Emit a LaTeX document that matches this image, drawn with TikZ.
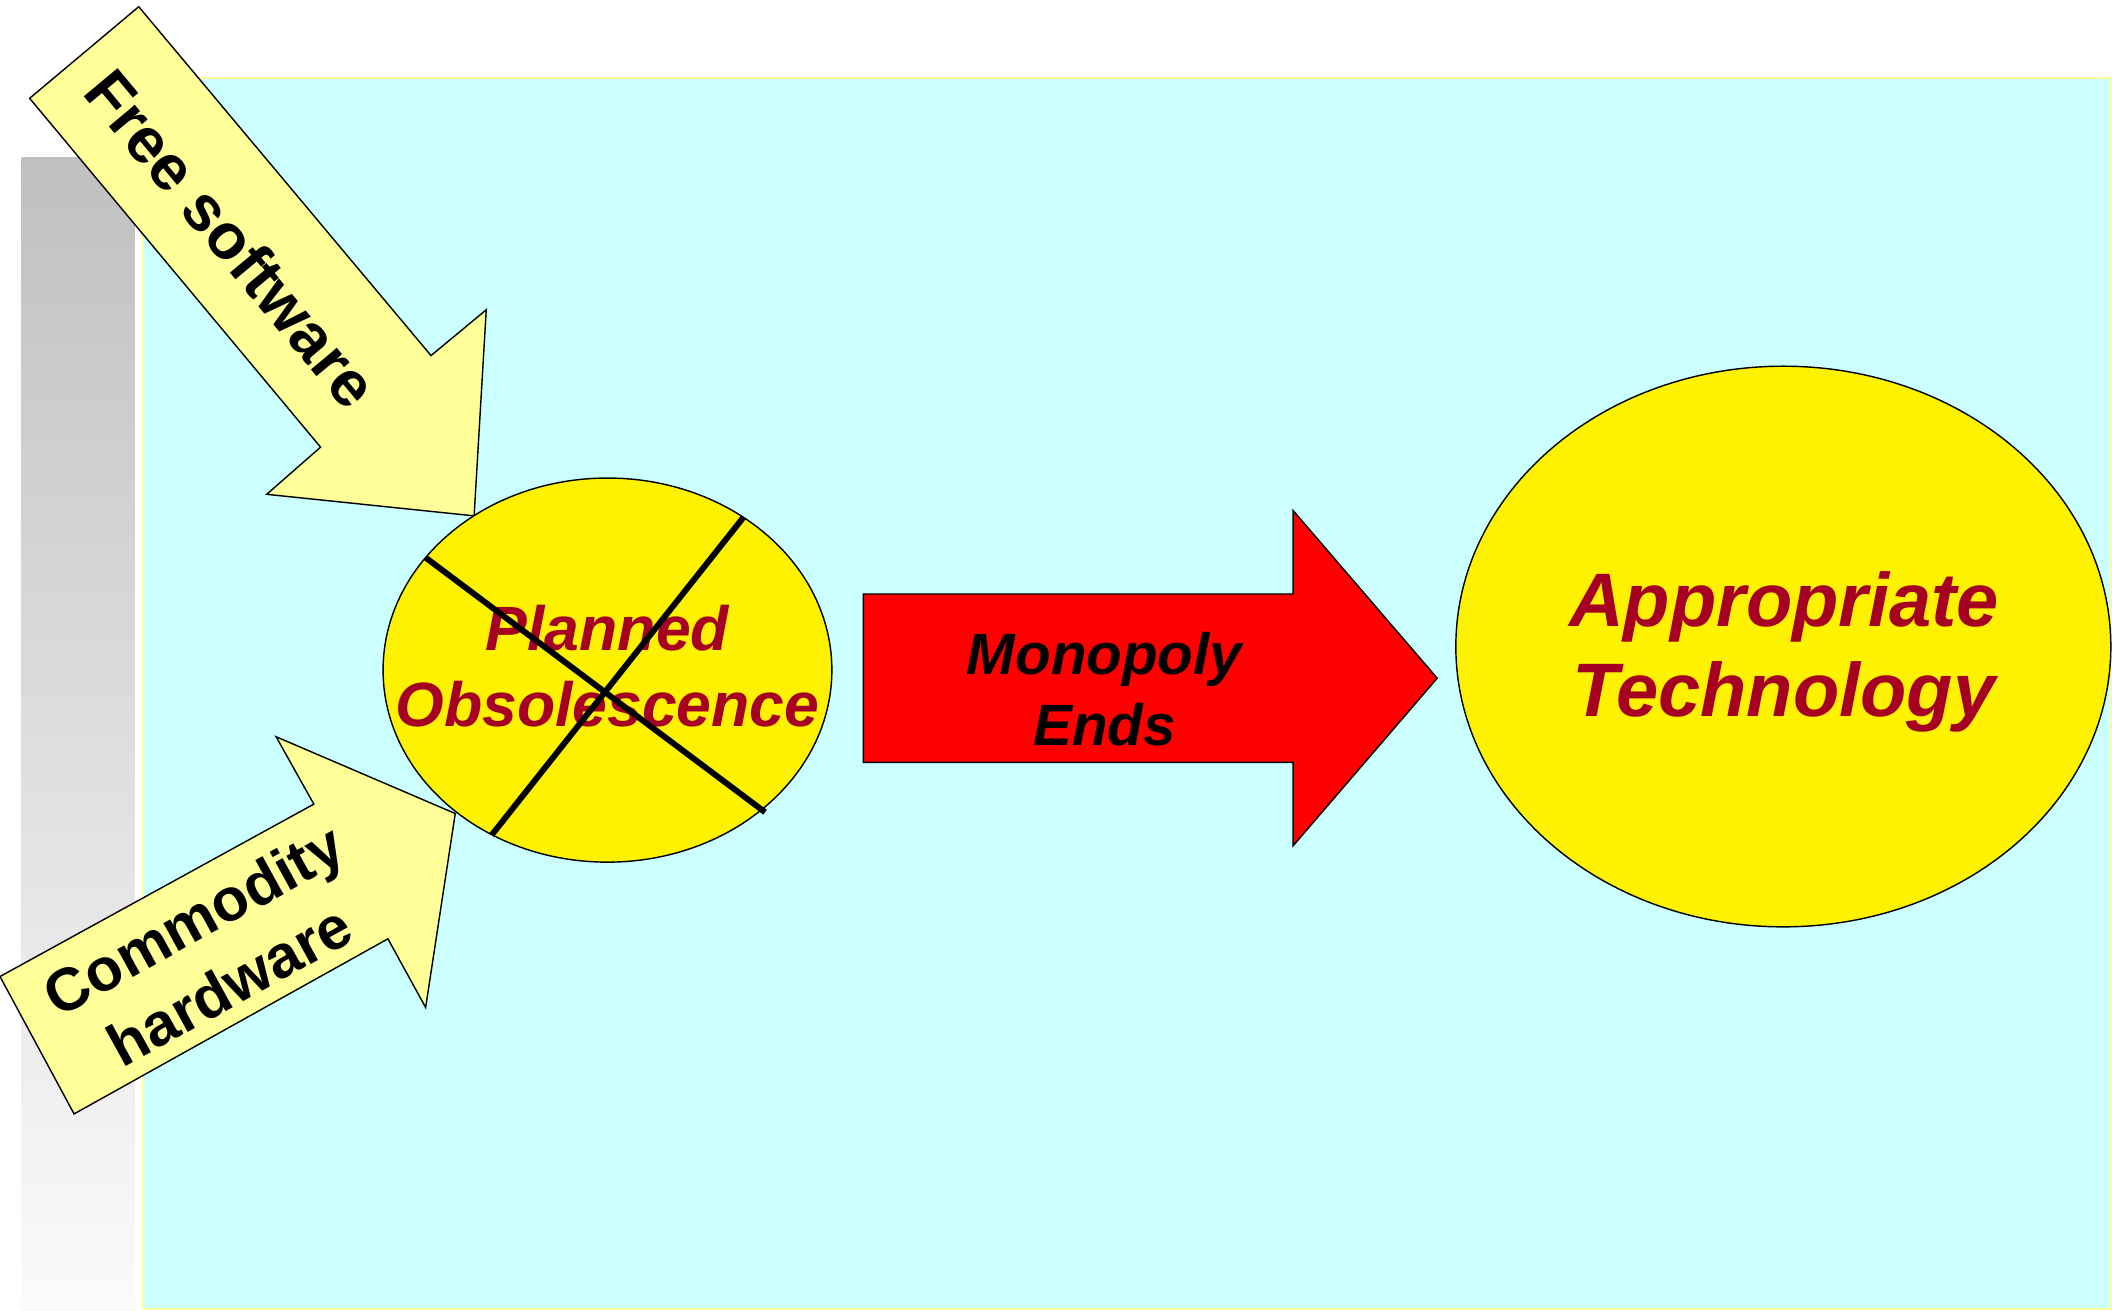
\documentclass[tikz,border=0pt]{standalone}
\usepackage{fontspec}
\setmainfont{Liberation Sans}
\usepackage{tikz}
\usetikzlibrary{shapes.geometric}
\definecolor{paleCyan}{RGB}{204,255,255}
\definecolor{paleYellow}{RGB}{255,255,153}
\definecolor{wineRed}{RGB}{165,0,33}
\definecolor{barTop}{RGB}{192,192,192}
\definecolor{barBottom}{RGB}{251,251,251}
\tikzset{
  blob/.style={shape=ellipse,draw=black,line width=0.3pt,fill=yellow,inner sep=0pt},
  blobtext/.style={text=wineRed,align=center,inner sep=0pt},
  blockarrow/.style={draw=black,line width=0.3pt,line join=miter},
  armlabel/.style={font=\fontsize{13.5}{15.8}\selectfont\bfseries,align=center,inner sep=0pt},
  strike/.style={draw=black,line width=1.25pt},
}

\begin{document}
\begin{tikzpicture}[x=0.01cm,y=-0.01cm]
\useasboundingbox (0,0) rectangle (1568,973);

% backdrop
\shade[top color=barTop,bottom color=barBottom] (16,117) rectangle (100,973);
\path[fill=paleCyan,draw=paleYellow,line width=0.45pt] (106,58) rectangle (1567,972);

% inputs
\path[blockarrow,fill=paleYellow] (22,73) -- (103,5) -- (320,264) -- (361,230) -- (352,383) -- (198,367) -- (238,332) -- cycle;
\path (172,177) node [armlabel,rotate=-50.2] (freesw) {Free software};

\path[blockarrow,fill=paleYellow] (0,725) -- (233,597) -- (205,547) -- (338,604) -- (316,748) -- (288,697) -- (55,827) -- cycle;
\path (157,707) node [armlabel,font=\fontsize{12.7}{15.8}\selectfont\bfseries,rotate=28.8] (commodity) {Commodity\\hardware};

% crossed out
\path (451,497.5) node [blob,minimum width=3.33cm,minimum height=2.85cm] (planned) {};
\path (planned.center) node [blobtext,font=\fontsize{13.2}{16}\selectfont\bfseries\itshape,yshift=0.03cm] (plannedtxt) {Planned\\Obsolescence};
\draw[strike] (316,414) -- (568,603);
\draw[strike] (365,620) -- (552,384);

% result
\path[blockarrow,fill=red] (641,441) -- (960,441) -- (960,379) -- (1067,503.5) -- (960,628) -- (960,566) -- (641,566) -- cycle;
\path (820,512) node [font=\fontsize{12.3}{15}\selectfont\bfseries\itshape,align=center,inner sep=0pt] (monopoly) {Monopoly\\Ends};

\path (1324,480) node [blob,minimum width=4.86cm,minimum height=4.16cm] (approp) {};
\path (1324.5,484) node [blobtext,font=\fontsize{16}{18.8}\selectfont\bfseries\itshape] (approptxt) {Appropriate\\Technology};

\end{tikzpicture}
\end{document}
